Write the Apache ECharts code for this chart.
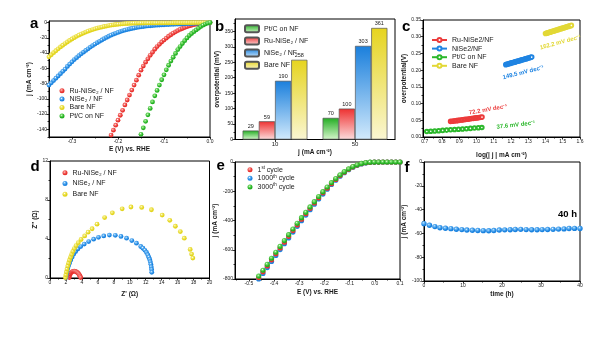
<!DOCTYPE html>
<html>
<head>
<meta charset="utf-8">
<script src="https://cdn.jsdelivr.net/npm/echarts@6/dist/echarts.min.js"></script>
<style>
  html, body { margin: 0; padding: 0; background: #fff; }
  #chart { width: 600px; height: 337px; }
</style>
</head>
<body>
<div id="chart"></div>
<script>
// ---------- (a) HER polarisation curves ----------
const lsvPotential = [
  -0.350,-0.345,-0.340,-0.335,-0.330,-0.325,-0.320,-0.315,-0.310,-0.305,
  -0.300,-0.295,-0.290,-0.285,-0.280,-0.275,-0.270,-0.265,-0.260,-0.255,
  -0.250,-0.245,-0.240,-0.235,-0.230,-0.225,-0.220,-0.215,-0.210,-0.205,
  -0.200,-0.195,-0.190,-0.185,-0.180,-0.175,-0.170,-0.165,-0.160,-0.155,
  -0.150,-0.145,-0.140,-0.135,-0.130,-0.125,-0.120,-0.115,-0.110,-0.105,
  -0.100,-0.095,-0.090,-0.085,-0.080,-0.075,-0.070,-0.065,-0.060,-0.055,
  -0.050,-0.045,-0.040,-0.035,-0.030,-0.025,-0.020,-0.015,-0.010,-0.005,
  0.000
];
const lsvBare = [
  -45.0,-42.2,-39.5,-37.0,-34.5,-32.0,-29.8,-27.6,-25.5,-23.5,
  -21.6,-19.8,-18.1,-16.6,-15.1,-13.8,-12.5,-11.3,-10.2,-9.2,
  -8.3,-7.4,-6.6,-5.9,-5.2,-4.6,-4.0,-3.5,-3.0,-2.6,
  -2.3,-2.0,-1.7,-1.5,-1.3,-1.15,-1.0,-0.9,-0.8,-0.7,
  -0.65,-0.6,-0.57,-0.55,-0.52,-0.5,-0.48,-0.46,-0.44,-0.42,
  -0.4,-0.38,-0.36,-0.34,-0.32,-0.3,-0.28,-0.26,-0.24,-0.22,
  -0.2,-0.18,-0.16,-0.14,-0.12,-0.1,-0.08,-0.06,-0.04,-0.02,
  0
];
const lsvNiSe2 = [
  -82,-79,-76,-73,-70,-67,-64,-61,-57.5,-54.5,
  -51.5,-48.5,-46,-43.5,-41,-38.8,-36.6,-34.4,-32.2,-30.2,
  -28.3,-26.4,-24.6,-22.9,-21.2,-19.5,-18,-16.6,-15.3,-14.1,
  -13,-11.9,-10.9,-10,-9.2,-8.5,-7.8,-7.2,-6.6,-6.1,
  -5.6,-5.2,-4.8,-4.5,-4.2,-3.9,-3.7,-3.5,-3.3,-3.1,
  -2.9,-2.7,-2.6,-2.4,-2.3,-2.2,-2.0,-1.9,-1.8,-1.7,
  -1.5,-1.4,-1.3,-1.1,-1.0,-0.8,-0.6,-0.5,-0.3,-0.15,
  0
];
// Ru-NiSe2 and Pt/C are recorded over the last part of the potential window
const lsvRu = [
  -160.5,-154,-147.5,-141,-134.5,-128,-121.5,-115,-108,-101.5,
  -95,-88.5,-82,-75.5,-69,-62.5,-57,-52,-47.5,-43,
  -39,-35,-31.5,-28.5,-25.5,-23,-20.5,-18,-16,-14,
  -12.2,-10.6,-9.1,-7.8,-6.6,-5.5,-4.5,-3.6,-2.8,-2.1,
  -1.5,-1.0,-0.6,-0.35,-0.15,0
];
const lsvPtC = [
  -155,-146.5,-138,-129.5,-121,-112.5,-104,-96,-89,-82,
  -75,-68.5,-62,-56,-50.5,-45.5,-40.5,-35.5,-31.5,-27.5,
  -23.8,-20.2,-17,-14.4,-12,-9.7,-7.5,-5.3,-3.5,-2,
  -0.8,0
];
const aTicksX = [-0.3, -0.2, -0.1, 0];
const aMinorX = [-0.35, -0.25, -0.15, -0.05];
const aTicksY = [0, -20, -40, -60, -80, -100, -120, -140];
const aMinorY = [-10, -30, -50, -70, -90, -110, -130, -150];

// ---------- (b) overpotential bars ----------
const barCategories = ['10', '50'];
const etaPtC = [29, 70];
const etaRu = [59, 100];
const etaNiSe2 = [190, 303];
const etaBare = [258, 361];
const bTicksY = [0, 50, 100, 150, 200, 250, 300, 350];
const bMinorY = [25, 75, 125, 175, 225, 275, 325, 375];

// ---------- (c) Tafel plots ----------
const tafelRuX = [0.850,0.860,0.868,0.877,0.885,0.894,0.902,0.911,0.919,0.928,0.937,0.946,0.955,0.963,0.972,0.981,0.990,0.998,1.007,1.015,1.024,1.032];
const tafelRuY = [0.0466,0.0471,0.0478,0.0484,0.0489,0.0496,0.0502,0.0508,0.0513,0.0520,0.0527,0.0533,0.0539,0.0546,0.0552,0.0558,0.0565,0.0571,0.0577,0.0583,0.0590,0.0596];
const tafelNiX = [1.170,1.176,1.182,1.188,1.194,1.200,1.206,1.212,1.218,1.224,1.230,1.236,1.242,1.248,1.254,1.260,1.266,1.272,1.278,1.284,1.290,1.296,1.302,1.308,1.314,1.320];
const tafelNiY = [0.2165,0.2175,0.2183,0.2191,0.2201,0.2210,0.2220,0.2228,0.2237,0.2246,0.2256,0.2264,0.2272,0.2282,0.2291,0.2300,0.2310,0.2318,0.2327,0.2336,0.2344,0.2354,0.2363,0.2372,0.2381,0.2390];
const tafelPtX = [0.712,0.735,0.758,0.781,0.804,0.827,0.850,0.873,0.896,0.919,0.942,0.965,0.988,1.011,1.031];
const tafelPtY = [0.0163,0.0171,0.0180,0.0189,0.0197,0.0206,0.0215,0.0223,0.0232,0.0241,0.0249,0.0258,0.0267,0.0275,0.0283];
const tafelBareX = [1.400,1.406,1.412,1.418,1.424,1.430,1.436,1.442,1.448,1.454,1.460,1.466,1.472,1.478,1.484,1.490,1.496,1.502,1.508,1.514,1.520,1.526,1.532,1.538,1.544,1.550];
const tafelBareY = [0.3095,0.3105,0.3114,0.3124,0.3134,0.3144,0.3153,0.3163,0.3173,0.3182,0.3192,0.3202,0.3212,0.3221,0.3231,0.3241,0.3250,0.3260,0.3270,0.3280,0.3289,0.3299,0.3309,0.3318,0.3328,0.3338];
const tafelSlopes = ['72.2', '149.5', '37.6', '162.2'];
const cTicksX = [0.7, 0.8, 0.9, 1.0, 1.1, 1.2, 1.3, 1.4, 1.5, 1.6];
const cMinorX = [0.75, 0.85, 0.95, 1.05, 1.15, 1.25, 1.35, 1.45, 1.55];
const cTicksY = [0, 0.05, 0.10, 0.15, 0.20, 0.25, 0.30, 0.35];
const cMinorY = [0.025, 0.075, 0.125, 0.175, 0.225, 0.275, 0.325];

// ---------- (d) Nyquist plots ----------
const nyqRuRe = [2.42,2.46,2.54,2.64,2.76,2.89,3.03,3.17,3.31,3.45,3.57,3.68,3.77,3.84];
const nyqRuIm = [0.05,0.25,0.42,0.55,0.63,0.68,0.70,0.68,0.63,0.55,0.45,0.32,0.18,0.05];
const nyqNiRe = [2.00,2.06,2.13,2.22,2.33,2.46,2.61,2.78,2.98,3.22,3.50,3.85,4.30,4.85,5.47,6.08,6.74,7.45,8.19,8.90,9.60,10.26,10.84,11.38,11.65,11.90,12.10,12.26,12.39,12.50,12.58,12.65,12.70,12.74,12.76];
const nyqNiIm = [0.05,0.35,0.65,0.95,1.25,1.55,1.85,2.15,2.45,2.72,2.98,3.22,3.48,3.74,3.98,4.17,4.32,4.40,4.38,4.26,4.08,3.84,3.57,3.23,3.05,2.84,2.62,2.38,2.14,1.90,1.66,1.40,1.14,0.88,0.58];
const nyqBareRe = [1.93,1.99,2.06,2.14,2.23,2.33,2.44,2.57,2.71,2.87,3.05,3.27,3.55,3.90,4.35,4.78,5.28,5.90,6.85,7.82,9.05,10.15,11.50,12.72,14.07,15.02,15.72,16.34,16.84,17.58,17.75,17.91];
const nyqBareIm = [0.05,0.33,0.62,0.92,1.22,1.52,1.82,2.12,2.42,2.72,3.02,3.32,3.62,3.95,4.32,4.70,5.05,5.52,6.20,6.68,7.10,7.28,7.24,7.00,6.45,5.92,5.31,4.76,4.08,2.93,2.45,2.04];
const dTicksX = [0, 2, 4, 6, 8, 10, 12, 14, 16, 18, 20];
const dMinorX = [1, 3, 5, 7, 9, 11, 13, 15, 17, 19];
const dTicksY = [0, 4, 8, 12];
const dMinorY = [2, 6, 10];

// ---------- (e) cycling stability ----------
const cyclePotential = [-0.461,-0.444,-0.427,-0.410,-0.393,-0.376,-0.359,-0.342,-0.325,-0.308,-0.291,-0.274,-0.257,-0.240,-0.223,-0.206,-0.189,-0.172,-0.155,-0.138,-0.121,-0.104,-0.087,-0.070,-0.053,-0.036,-0.019,-0.002,0.015,0.032,0.049,0.066,0.083,0.100];
const cycle1st = [-790,-751,-711,-669,-628,-588,-548,-508,-469,-430,-391,-354,-317,-280,-245,-211,-179,-148,-119,-93,-70,-50,-34,-21,-11.5,-5,-2,-0.8,-0.2,0,0,0,0,0];
const cycle1000 = [-800,-762,-722,-680,-639,-599,-559,-519,-479,-440,-401,-363,-326,-289,-253,-219,-186,-154,-124,-97,-73,-53,-36,-23,-13,-6,-2.5,-1,-0.3,0,0,0,0,0];
const cycle3000 = [-780,-740,-700,-658,-617,-577,-537,-497,-458,-419,-381,-344,-307,-271,-236,-203,-171,-141,-113,-88,-66,-47,-31,-19,-10,-4,-1.5,-0.5,-0.2,0,0,0,0,0];
const eTicksX = [-0.5, -0.4, -0.3, -0.2, -0.1, 0, 0.1];
const eMinorX = [-0.55, -0.45, -0.35, -0.25, -0.15, -0.05, 0.05];
const eTicksY = [0, -200, -400, -600, -800];
const eMinorY = [-100, -300, -500, -700];

// ---------- (f) chronoamperometry ----------
const stabTime = [0,1.4,2.8,4.1,5.5,6.9,8.3,9.7,11.0,12.4,13.8,15.2,16.6,17.9,19.3,20.7,22.1,23.4,24.8,26.2,27.6,29.0,30.3,31.7,33.1,34.5,35.9,37.2,38.6,40.0];
const stabCurrent = [-51.8,-53.2,-54.3,-55.2,-55.7,-56.0,-56.5,-56.8,-57.2,-57.4,-57.5,-57.7,-57.8,-57.6,-57.2,-57.0,-56.9,-56.7,-56.6,-56.8,-56.9,-56.9,-56.8,-56.7,-56.6,-56.4,-56.2,-55.9,-55.8,-55.9];
const fTicksX = [0, 10, 20, 30, 40];
const fMinorX = [5, 15, 25, 35];
const fTicksY = [0, -20, -40, -60, -80, -100];
const fMinorY = [-10, -30, -50, -70, -90];

// ---------- styling helpers ----------
const FONT = '"Liberation Sans", Arial, Helvetica, sans-serif';
const INK = '#1a1a1a';
const RED = '#e8312e', BLUE = '#1b83e0', YELLOW = '#e2d41c', GREEN = '#22b022';
const LIGHT = { [RED]: '#f88a86', [BLUE]: '#7cc2f8', [YELLOW]: '#f6ee80', [GREEN]: '#86e276' };

// glossy ball marker: small highlight, saturated rim
function ball(c) {
  return { type: 'radial', x: 0.4, y: 0.36, r: 0.66,
    colorStops: [{ offset: 0, color: '#ffffff' }, { offset: 0.18, color: LIGHT[c] }, { offset: 0.7, color: c }, { offset: 1, color: c }] };
}
function barFill(top, bottom) {
  return { type: 'linear', x: 0, y: 0, x2: 0, y2: 1,
    colorStops: [{ offset: 0, color: top }, { offset: 1, color: bottom }] };
}
function pairs(xs, ys) {
  const off = xs.length - ys.length;
  return ys.map((y, i) => [xs[off + i], y]);
}
const label = n => n.split('|')[1];

const grids = [
  { left: 49, top: 21, width: 161, height: 116 },    // a
  { left: 235, top: 19, width: 160, height: 120.5 },  // b
  { left: 423, top: 20, width: 157, height: 117 },    // c
  { left: 50, top: 161, width: 159.5, height: 117 },  // d
  { left: 235, top: 162, width: 165, height: 117 },   // e
  { left: 424, top: 162, width: 156, height: 119 }    // f
].map(g => Object.assign(g, { show: true, borderColor: '#000', borderWidth: 1, containLabel: false, outerBoundsMode: 'none' }));

const xAxes = [], yAxes = [];
function addAxis(isY, o) {
  const list = isY ? yAxes : xAxes;
  const idx = list.length;
  const pos = isY ? 'left' : 'bottom';
  list.push({
    type: 'value', gridIndex: o.grid, min: o.min, max: o.max, position: pos,
    name: o.name, nameLocation: 'middle', nameGap: o.gap, nameRotate: isY ? 90 : 0,
    nameTextStyle: { fontFamily: FONT, fontSize: 6.5, fontWeight: 'bold', color: INK },
    axisLine: { show: true, onZero: false, lineStyle: { color: '#000', width: 1 } },
    axisTick: { show: true, inside: false, length: 2.5, customValues: o.ticks, lineStyle: { color: '#000', width: 0.8 } },
    axisLabel: { show: true, customValues: o.ticks, margin: 2, fontSize: 5, fontFamily: FONT, color: INK,
      formatter: v => Number(v).toFixed(o.dec) },
    splitLine: { show: false }
  });
  if (o.minor) {
    list.push({
      type: 'value', gridIndex: o.grid, min: o.min, max: o.max, position: pos,
      axisLine: { show: false, onZero: false },
      axisTick: { show: true, inside: false, length: 1.5, customValues: o.minor, lineStyle: { color: '#000', width: 0.8 } },
      axisLabel: { show: false }, splitLine: { show: false }
    });
  }
  return idx;
}

// (a)
const axA = addAxis(false, { grid: 0, min: -0.35, max: 0, ticks: aTicksX, minor: aMinorX, dec: 1, name: 'E (V) vs. RHE', gap: 8.5 });
const ayA = addAxis(true, { grid: 0, min: -150, max: 2, ticks: aTicksY, minor: aMinorY, dec: 0, name: 'j (mA cm⁻²)', gap: 13 });
// (b) category x axis
const axB = xAxes.length;
xAxes.push({
  type: 'category', gridIndex: 1, data: barCategories, position: 'bottom',
  name: 'j (mA cm⁻²)', nameLocation: 'middle', nameGap: 8.7,
  nameTextStyle: { fontFamily: FONT, fontSize: 6.5, fontWeight: 'bold', color: INK },
  axisLine: { show: true, onZero: false, lineStyle: { color: '#000', width: 1 } },
  axisTick: { show: true, alignWithLabel: true, length: 2.5, lineStyle: { color: '#000', width: 0.8 } },
  axisLabel: { fontSize: 6, margin: 2, fontFamily: FONT, color: INK },
  splitLine: { show: false }
});
const ayB = addAxis(true, { grid: 1, min: 0, max: 390, ticks: bTicksY, minor: bMinorY, dec: 0, name: 'overpotential (mV)', gap: 11.5 });
// (c)
const axC = addAxis(false, { grid: 2, min: 0.69, max: 1.6, ticks: cTicksX, minor: cMinorX, dec: 1, name: 'log(| j | mA cm⁻²)', gap: 14.5 });
const ayC = addAxis(true, { grid: 2, min: 0, max: 0.35, ticks: cTicksY, minor: cMinorY, dec: 2, name: 'overpotential(V)', gap: 11 });
// (d)
const axD = addAxis(false, { grid: 3, min: 0, max: 20, ticks: dTicksX, minor: dMinorX, dec: 0, name: "Z' (Ω)", gap: 12.5 });
const ayD = addAxis(true, { grid: 3, min: 0, max: 12, ticks: dTicksY, minor: dMinorY, dec: 0, name: "Z'' (Ω)", gap: 11.5 });
// (e)
const axE = addAxis(false, { grid: 4, min: -0.555, max: 0.1, ticks: eTicksX, minor: eMinorX, dec: 1, name: 'E (V) vs. RHE', gap: 10 });
const ayE = addAxis(true, { grid: 4, min: -800, max: 0, ticks: eTicksY, minor: eMinorY, dec: 0, name: 'j (mA cm⁻²)', gap: 13.5 });
// (f)
const axF = addAxis(false, { grid: 5, min: 0, max: 40, ticks: fTicksX, minor: fMinorX, dec: 0, name: 'time (h)', gap: 9.5 });
const ayF = addAxis(true, { grid: 5, min: -100, max: 0, ticks: fTicksY, minor: fMinorY, dec: 0, name: 'j (mA cm⁻²)', gap: 15.5 });

function scatter(name, xi, yi, data, color, size) {
  return { type: 'scatter', name, xAxisIndex: xi, yAxisIndex: yi, data, symbol: 'circle', symbolSize: size,
    itemStyle: { color: ball(color), opacity: 1 }, clip: true };
}
function bar(name, data, top, bottom) {
  return { type: 'bar', name, xAxisIndex: axB, yAxisIndex: ayB, data, barGap: '0%', barCategoryGap: '19%',
    itemStyle: { color: barFill(top, bottom), borderColor: '#555', borderWidth: 0.7 },
    label: { show: true, position: 'top', distance: 1, fontSize: 5.5, fontFamily: FONT, color: INK } };
}
function tafel(name, xs, ys, color) {
  return { type: 'line', name, xAxisIndex: axC, yAxisIndex: ayC, data: pairs(xs, ys),
    symbol: 'emptyCircle', symbolSize: 3.6, showSymbol: true,
    lineStyle: { color, width: 1 }, itemStyle: { color, borderColor: color, borderWidth: 1 } };
}

const series = [
  scatter('a|Ru-NiSe₂ / NF', axA, ayA, pairs(lsvPotential, lsvRu), RED, 4.8),
  scatter('a|NiSe₂ / NF', axA, ayA, pairs(lsvPotential, lsvNiSe2), BLUE, 4.8),
  scatter('a|Bare NF', axA, ayA, pairs(lsvPotential, lsvBare), YELLOW, 4.8),
  scatter('a|Pt/C on NF', axA, ayA, pairs(lsvPotential, lsvPtC), GREEN, 4.8),

  bar('b|Pt/C on NF', etaPtC, '#22ad22', '#d6f6cc'),
  bar('b|Ru-NiSe₂ / NF', etaRu, '#ee3030', '#fcdcdc'),
  bar('b|NiSe₂ / NF', etaNiSe2, '#1a7fdc', '#d2eafc'),
  bar('b|Bare NF', etaBare, '#e6d41e', '#faf6d2'),

  tafel('c|Ru-NiSe2/NF', tafelRuX, tafelRuY, '#ec3b3b'),
  tafel('c|NiSe2/NF', tafelNiX, tafelNiY, '#1f84e2'),
  tafel('c|Pt/C on NF', tafelPtX, tafelPtY, '#2cb82c'),
  tafel('c|Bare NF', tafelBareX, tafelBareY, '#e2d836'),

  scatter('d|Ru-NiSe₂ / NF', axD, ayD, pairs(nyqRuRe, nyqRuIm), RED, 4.8),
  scatter('d|NiSe₂ / NF', axD, ayD, pairs(nyqNiRe, nyqNiIm), BLUE, 4.8),
  scatter('d|Bare NF', axD, ayD, pairs(nyqBareRe, nyqBareIm), YELLOW, 4.8),

  scatter('e|1000', axE, ayE, pairs(cyclePotential, cycle1000), BLUE, 5.2),
  scatter('e|1st', axE, ayE, pairs(cyclePotential, cycle1st), RED, 5.2),
  scatter('e|3000', axE, ayE, pairs(cyclePotential, cycle3000), GREEN, 5.2),

  scatter('f|stability', axF, ayF, pairs(stabTime, stabCurrent), BLUE, 5.4)
];

function legendBox(names, left, top, w, h, rowH, extra) {
  return Object.assign({
    data: names, orient: 'vertical', left, top, padding: 0, itemGap: 0,
    itemWidth: w, itemHeight: h, selectedMode: false, formatter: label,
    textStyle: { fontFamily: FONT, fontSize: 7, color: INK, lineHeight: rowH }
  }, extra || {});
}
const cycleText = {
  'e|1st': '{n|1}{s|st}{n| cycle}',
  'e|1000': '{n|1000}{s|th}{n| cycle}',
  'e|3000': '{n|3000}{s|th}{n| cycle}'
};
const legends = [
  legendBox(['a|Ru-NiSe₂ / NF', 'a|NiSe₂ / NF', 'a|Bare NF', 'a|Pt/C on NF'], 59.5, 86.5, 5, 5, 8.4),
  legendBox(['b|Pt/C on NF', 'b|Ru-NiSe₂ / NF', 'b|NiSe₂ / NF', 'b|Bare NF'], 244, 24.2, 14, 7, 7, { itemGap: 3.2 }),
  legendBox(['c|Ru-NiSe2/NF', 'c|NiSe2/NF', 'c|Pt/C on NF', 'c|Bare NF'], 431, 35.7, 15, 5, 8.6),
  legendBox(['d|Ru-NiSe₂ / NF', 'd|NiSe₂ / NF', 'd|Bare NF'], 62.5, 167.4, 5, 5, 10.7),
  legendBox(['e|1st', 'e|1000', 'e|3000'], 247.5, 165.2, 5, 5, 8.2, {
    formatter: n => cycleText[n],
    textStyle: { fontFamily: FONT, fontSize: 7, color: INK, lineHeight: 8.2,
      rich: { n: { fontFamily: FONT, fontSize: 7, color: INK }, s: { fontFamily: FONT, fontSize: 4.5, color: INK, padding: [0, 0, 4, 0] } } }
  })
];

const chart = echarts.init(document.getElementById('chart'), null, { renderer: 'canvas' });
chart.setOption({
  animation: false,
  backgroundColor: '#fff',
  grid: grids,
  xAxis: xAxes,
  yAxis: yAxes,
  legend: legends,
  series
});

// panel letters and annotations
const panelLetters = [['a', 30, 23.5], ['b', 215, 27.3], ['c', 402, 27], ['d', 30.5, 166.7], ['e', 216.5, 165.8], ['f', 404.5, 167.5]];
const graphics = panelLetters.map(([t, x, y]) => ({
  type: 'text', x, y, silent: true,
  style: { text: t, font: 'bold 15px ' + FONT, fill: '#000', textAlign: 'left', textVerticalAlign: 'middle' }
}));

const slopeNotes = [
  { i: 0, at: [1.067, 0.082], color: '#ec3b3b', rot: 10 },
  { i: 1, at: [1.271, 0.193], color: '#1f84e2', rot: 14 },
  { i: 2, at: [1.228, 0.036], color: '#2cb82c', rot: 6 },
  { i: 3, at: [1.486, 0.283], color: '#e2d836', rot: 15 }
];
slopeNotes.forEach(n => {
  const p = chart.convertToPixel({ gridIndex: 2 }, n.at);
  graphics.push({
    type: 'text', x: p[0], y: p[1], rotation: n.rot * Math.PI / 180, silent: true,
    style: { text: tafelSlopes[n.i] + ' mV dec⁻¹', font: 'bold 6px ' + FONT, fill: n.color, textAlign: 'center', textVerticalAlign: 'middle' }
  });
});
const pf = chart.convertToPixel({ gridIndex: 5 }, [36.8, -44]);
graphics.push({
  type: 'text', x: pf[0], y: pf[1], silent: true,
  style: { text: '40 h', font: 'bold 9.5px ' + FONT, fill: '#000', textAlign: 'center', textVerticalAlign: 'middle' }
});
chart.setOption({ graphic: graphics });
</script>
</body>
</html>
